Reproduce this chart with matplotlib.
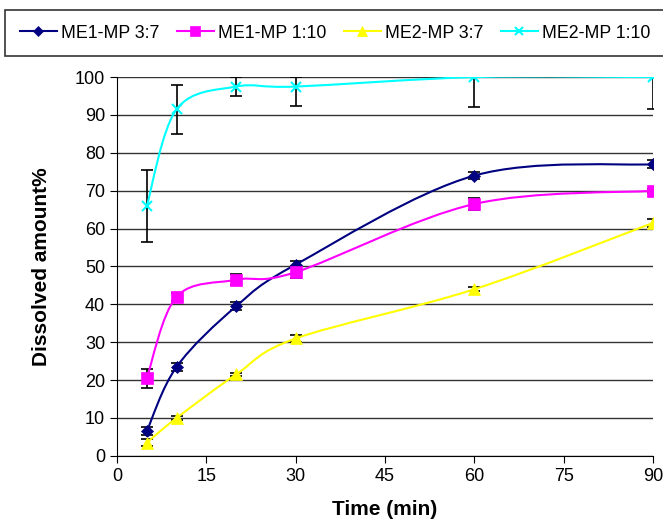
import numpy as np
import matplotlib
matplotlib.use("Agg")
from matplotlib import pyplot as plt
from matplotlib.path import Path
from matplotlib.patches import PathPatch

plt.rcParams["font.family"] = ["Liberation Sans", "DejaVu Sans"]

time = [5, 10, 20, 30, 60, 90]
series_names = ["ME1-MP 3:7", "ME1-MP 1:10", "ME2-MP 3:7", "ME2-MP 1:10"]
me1_37 = [6.5, 23.5, 39.5, 50.5, 74, 77]
me1_110 = [20.5, 42, 46.5, 48.5, 66.5, 70]
me2_37 = [3.5, 10, 21.5, 31, 44, 61.5]
me2_110 = [66, 91.5, 97.5, 97.5, 100, 100]
err_me1_37 = [1, 1, 1, 1, 1, 1]
err_me1_110 = [2.5, 1, 1.5, 1.5, 1.5, 0.5]
err_me2_37 = [1, 0.5, 0.5, 1, 0.5, 1]
err_me2_110 = [9.5, 6.5, 2.5, 5, 8, 8.5]

colors = ["#000080", "#ff00ff", "#ffff00", "#00ffff"]
markers = ["D", "s", "^", "x"]
msizes = [6, 8, 8, 7]


def smooth_path(x, y):
    # excel-like smoothed line: cubic bezier segments
    x = np.asarray(x, float)
    y = np.asarray(y, float)
    n = len(x)
    verts = [(x[0], y[0])]
    codes = [Path.MOVETO]
    for i in range(n - 1):
        x0, y0 = (x[i - 1], y[i - 1]) if i > 0 else (x[i], y[i])
        x3, y3 = (x[i + 2], y[i + 2]) if i + 2 < n else (x[i + 1], y[i + 1])
        c1 = (x[i] + (x[i + 1] - x0) / 6, y[i] + (y[i + 1] - y0) / 6)
        c2 = (x[i + 1] - (x3 - x[i]) / 6, y[i + 1] - (y3 - y[i]) / 6)
        verts += [c1, c2, (x[i + 1], y[i + 1])]
        codes += [Path.CURVE4] * 3
    return Path(verts, codes)


fig = plt.figure(figsize=(6.63, 5.21), dpi=100)
ax = fig.add_axes([0.1765, 0.125, 0.8085, 0.727])

data = [me1_37, me1_110, me2_37, me2_110]
errs = [err_me1_37, err_me1_110, err_me2_37, err_me2_110]
for i in range(4):
    yerr_up = [min(e, 100 - v) for v, e in zip(data[i], errs[i])]
    ax.errorbar(time, data[i], yerr=[errs[i], yerr_up], fmt="none",
                ecolor="black", elinewidth=1.2, capsize=4.5, capthick=1.2, zorder=3)
    ax.add_patch(PathPatch(smooth_path(time, data[i]), facecolor="none",
                           edgecolor=colors[i], lw=1.5, zorder=4))
    ax.plot(time, data[i], color=colors[i], marker=markers[i],
            markersize=msizes[i], markeredgewidth=1.5 if markers[i] == "x" else 0.5,
            markeredgecolor=colors[i], lw=0, zorder=5)

ax.set_xlim(0, 90)
ax.set_ylim(0, 100)
ax.set_xticks(np.arange(0, 91, 15))
ax.set_yticks(np.arange(0, 101, 10))
ax.yaxis.grid(True, color="#333333", lw=1)
ax.set_axisbelow(True)
for s in ["top", "right"]:
    ax.spines[s].set_visible(False)
ax.tick_params(labelsize=13, direction="out", length=5)
ax.set_xlabel("Time (min)", fontsize=15, fontweight="bold", labelpad=11)
ax.set_ylabel("Dissolved amount%", fontsize=15, fontweight="bold", labelpad=17)

leg_handles = []
for i in range(4):
    h, = ax.plot([], [], color=colors[i], marker=markers[i], markersize=msizes[i] - 1,
                 lw=1.5, markeredgewidth=1.5 if markers[i] == "x" else 0.5)
    leg_handles.append(h)
leg = fig.legend(leg_handles, series_names, loc="upper left",
                 bbox_to_anchor=(0.008, 0.98),
                 ncol=4, fontsize=12.8, frameon=True, fancybox=False, edgecolor="black",
                 handlelength=2.1, handletextpad=0.25, columnspacing=0.95,
                 borderpad=0.8, borderaxespad=0)
leg.get_frame().set_linewidth(1.2)

fig.savefig("out.png", dpi=100)
